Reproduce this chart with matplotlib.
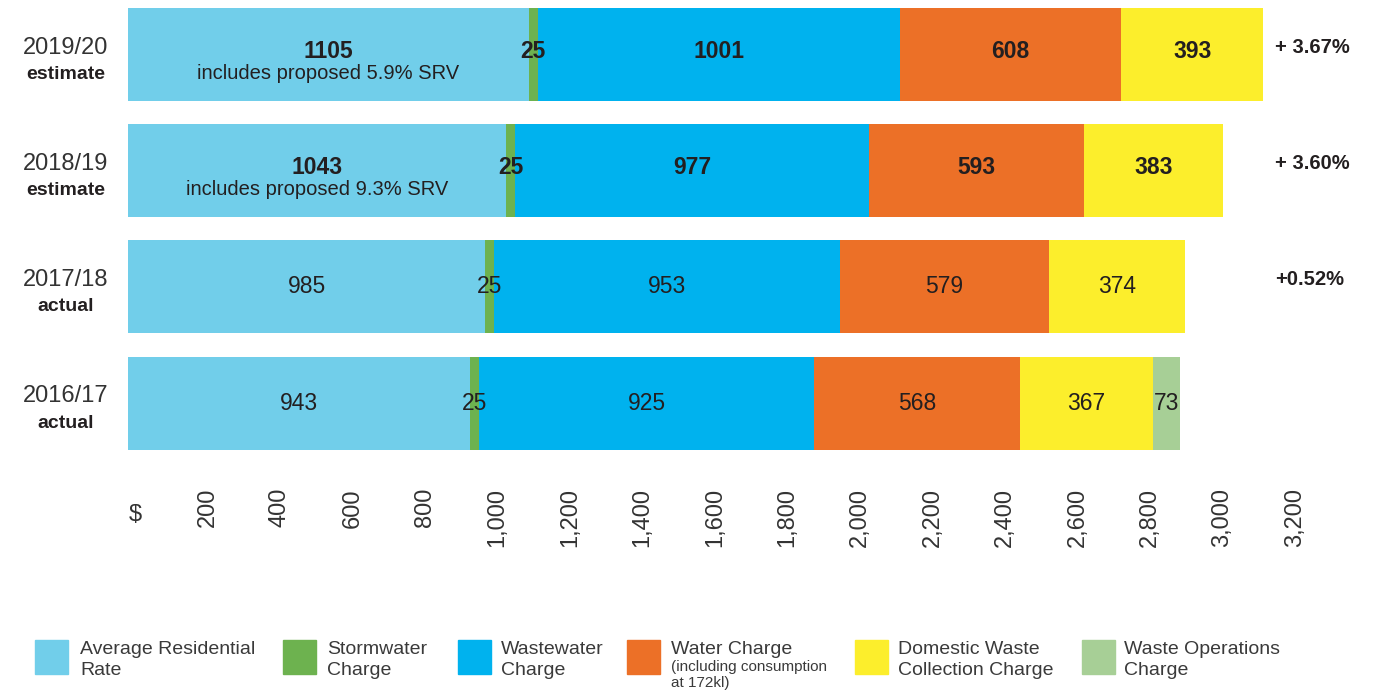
import numpy as np
import matplotlib.pyplot as plt
from matplotlib.patches import Rectangle
from matplotlib.transforms import ScaledTranslation

plt.rcParams['font.family'] = ['Liberation Sans', 'DejaVu Sans']

# data (top row first)
years = ['2019/20', '2018/19', '2017/18', '2016/17']
status = ['estimate', 'estimate', 'actual', 'actual']
residential = [1105, 1043, 985, 943]
stormwater = [25, 25, 25, 25]
wastewater = [1001, 977, 953, 925]
water = [608, 593, 579, 568]
domestic = [393, 383, 374, 367]
waste_ops = [0, 0, 0, 73]
srv_notes = ['includes proposed 5.9% SRV', 'includes proposed 9.3% SRV', '', '']
changes = ['+ 3.67%', '+ 3.60%', '+0.52%', '']
label_bold = [True, True, False, False]
ticks = [200, 400, 600, 800, 1000, 1200, 1400, 1600, 1800, 2000,
         2200, 2400, 2600, 2800, 3000, 3200]

series = [residential, stormwater, wastewater, water, domestic, waste_ops]
names = ['Average Residential\nRate', 'Stormwater\nCharge', 'Wastewater\nCharge',
         'Water Charge', 'Domestic Waste\nCollection Charge', 'Waste Operations\nCharge']
colors = ['#71CEEA', '#6DB24F', '#00B2EE', '#EC7027', '#FCEE2C', '#A7CF96']

TXT = '#231f20'
W, H = 1376, 690
fig = plt.figure(figsize=(W / 100, H / 100), dpi=100)


def fx(px):
    return px / W


def fy(py):
    return 1 - py / H


ax = fig.add_axes([fx(128), fy(470), fx(W - 128), 470 / H])
ax.set_xlim(0, (W - 128) / 0.3625)
ax.set_ylim((470 - 54.5) / 116.2, -54.5 / 116.2)

ypos = np.arange(len(years))
left = np.zeros(len(years))
for vals, col in zip(series, colors):
    vals = np.array(vals, dtype=float)
    ax.barh(ypos, vals, left=left, height=0.8, color=col, edgecolor='none')
    for i, v in enumerate(vals):
        if v <= 0:
            continue
        dy = 3 if srv_notes[i] else 0
        ax.annotate(f'{int(v)}', xy=(left[i] + v / 2, ypos[i]), xytext=(0, dy / 1.389),
                    textcoords='offset points', ha='center', va='center',
                    fontsize=16.5, color=TXT,
                    fontweight='bold' if label_bold[i] else 'normal')
    left += vals

for i in ypos:
    if srv_notes[i]:
        ax.annotate(srv_notes[i], xy=(residential[i] / 2, i), xytext=(0, -19 / 1.389),
                    textcoords='offset points', ha='center', va='center',
                    fontsize=14.5, color=TXT)
    # year and status labels
    ax.annotate(years[i], xy=(0, i), xytext=(-62 / 1.389, 7 / 1.389),
                textcoords='offset points', ha='center', va='center',
                fontsize=17, color='#333333')
    ax.annotate(status[i], xy=(0, i), xytext=(-62 / 1.389, -20 / 1.389),
                textcoords='offset points', ha='center', va='center',
                fontsize=14, fontweight='bold', color=TXT)
    if changes[i]:
        ax.annotate(changes[i], xy=(3164, i), xytext=(0, 7 / 1.389),
                    textcoords='offset points', ha='left', va='center',
                    fontsize=14.5, fontweight='bold', color=TXT)

ax.set_xticks(ticks)
ax.set_xticklabels([f'{t:,}' for t in ticks], rotation=90, fontsize=17, color='#333333')
ax.tick_params(axis='x', length=0, pad=13)
shift = ScaledTranslation(7 / 100, 0, fig.dpi_scale_trans)
for lab in ax.get_xticklabels():
    lab.set_transform(lab.get_transform() + shift)
ax.set_yticks([])
ax.annotate('$', xy=(0, 0), xycoords=('data', 'axes fraction'),
            xytext=(7 / 1.389, -45 / 1.389), textcoords='offset points',
            ha='center', va='center', fontsize=17, color='#333333')
for s in ax.spines.values():
    s.set_visible(False)

# legend
sq_x = [35, 283, 458, 627, 855, 1082]
tx_x = [80, 327, 501, 671, 898, 1124]
for name, col, sx, tx in zip(names, colors, sq_x, tx_x):
    fig.add_artist(Rectangle((fx(sx), fy(674)), 33 / W, 34 / H, color=col,
                             transform=fig.transFigure))
    if '\n' in name:
        fig.text(fx(tx), fy(660), name, ha='left', va='center', fontsize=14,
                 color='#3a3a3a', linespacing=1.3)
    else:
        fig.text(fx(tx), fy(649), name, ha='left', va='center', fontsize=14,
                 color='#3a3a3a')
        fig.text(fx(tx), fy(675), '(including consumption\nat 172kl)', ha='left',
                 va='center', fontsize=11, color='#3a3a3a', linespacing=1.2)

fig.savefig('out.png', dpi=100)
